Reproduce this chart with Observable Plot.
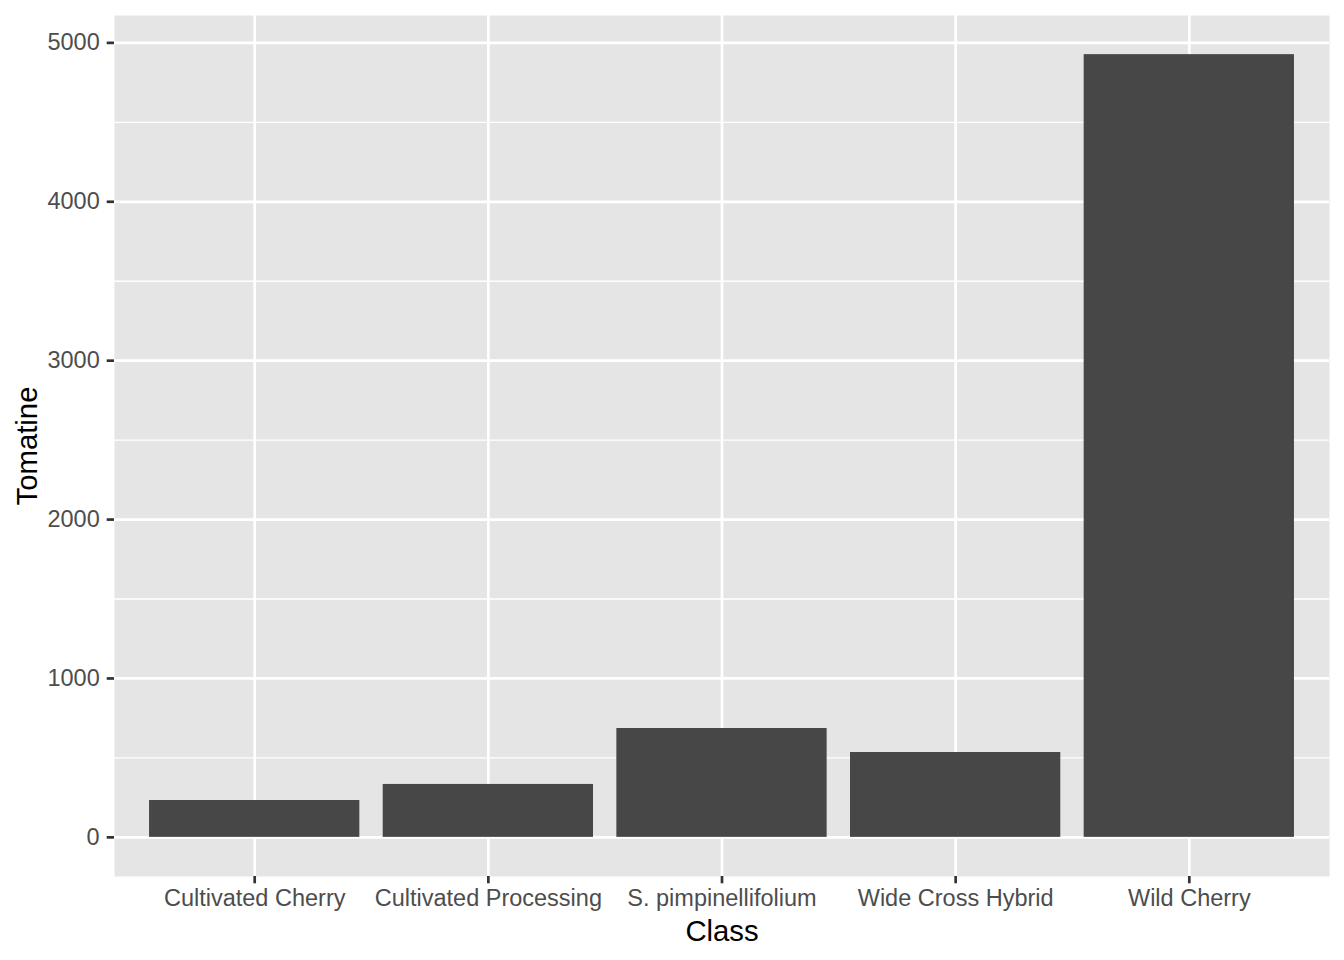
<!DOCTYPE html>
<html>
<head>
<meta charset="utf-8">
<script src="https://cdn.jsdelivr.net/npm/d3@7"></script>
<script src="https://cdn.jsdelivr.net/npm/@observablehq/plot@0.6"></script>
<style>
  html, body { margin: 0; padding: 0; background: #ffffff; }
  #chart { width: 1344px; height: 960px; }
</style>
</head>
<body>
<div id="chart"></div>
<script>
const classes = ["Cultivated Cherry", "Cultivated Processing", "S. pimpinellifolium", "Wide Cross Hybrid", "Wild Cherry"];
const tomatine = [232, 333, 685, 534, 4926];
const yMajorTicks = [0, 1000, 2000, 3000, 4000, 5000];
const yMinorTicks = [500, 1500, 2500, 3500, 4500];

const data = classes.map((c, i) => ({Class: c, Tomatine: tomatine[i]}));
const yMax = d3.max(tomatine);
const pad = yMax * 0.05;

const font = "'Liberation Sans', Arial, Helvetica, sans-serif";

const chart = Plot.plot({
  width: 1344,
  height: 960,
  marginLeft: 114,
  marginRight: 15,
  marginTop: 15,
  marginBottom: 84,
  style: { fontFamily: font, background: "#ffffff", overflow: "visible" },
  x: { type: "band", domain: classes, paddingInner: 0.1, paddingOuter: 0.15, round: false },
  y: { domain: [-pad, yMax + pad] },
  marks: [
    Plot.frame({ fill: "#E5E5E5", stroke: null }),
    Plot.gridY(yMinorTicks, { stroke: "#ffffff", strokeOpacity: 1, strokeWidth: 1.4 }),
    Plot.gridY(yMajorTicks, { stroke: "#ffffff", strokeOpacity: 1, strokeWidth: 2.7 }),
    Plot.gridX(classes, { stroke: "#ffffff", strokeOpacity: 1, strokeWidth: 2.7 }),
    Plot.barY(data, { x: "Class", y: "Tomatine", fill: "#474747" }),
    Plot.axisY(yMajorTicks, {
      tickSize: 7.3, tickPadding: 7.5, fontSize: 23.5, tickFormat: d3.format("d"),
      stroke: "#333333", strokeWidth: 2.7, fill: "#4D4D4D", label: null
    }),
    Plot.axisX(classes, {
      tickSize: 7.3, tickPadding: 5.7, fontSize: 23.5,
      stroke: "#333333", strokeWidth: 2.7, fill: "#4D4D4D", label: null
    }),
    Plot.text(["Class"], {
      frameAnchor: "bottom", dy: 64, lineAnchor: "bottom",
      fontSize: 29.3, fill: "#000000", text: d => d
    }),
    Plot.text(["Tomatine"], {
      frameAnchor: "left", dx: -87, rotate: -90, textAnchor: "middle",
      fontSize: 29.3, fill: "#000000", text: d => d
    })
  ]
});

document.getElementById("chart").appendChild(chart);
</script>
</body>
</html>
